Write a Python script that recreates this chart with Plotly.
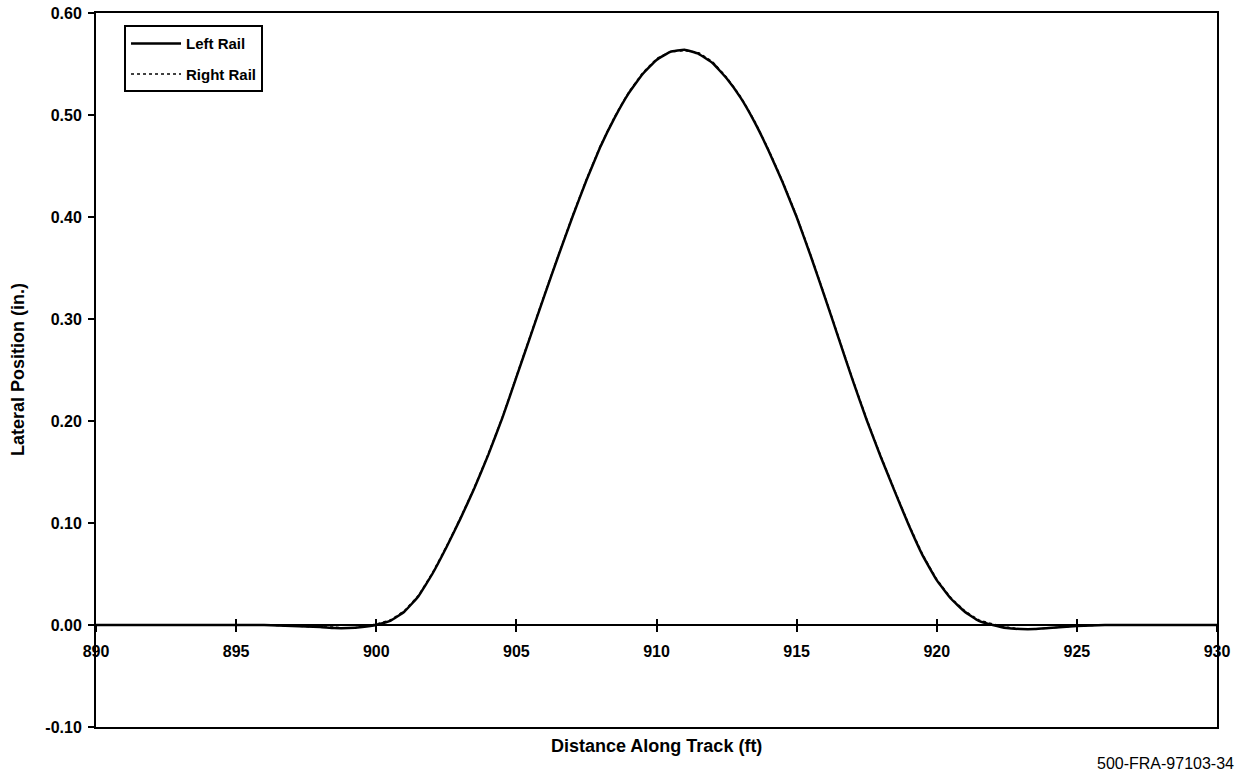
import plotly.graph_objects as go

# Distance along track (ft)
distance_ft = [890, 895, 896, 897, 898, 898.5, 899, 899.5, 900, 900.5, 901, 901.5, 902, 902.5,
               903, 903.5, 904, 904.5, 905, 905.5, 906, 906.5, 907, 907.5, 908, 908.5, 909,
               909.5, 910, 910.5, 911, 911.5, 912, 912.5, 913, 913.5, 914, 914.5, 915, 915.5,
               916, 916.5, 917, 917.5, 918, 918.5, 919, 919.5, 920, 920.5, 921, 921.5, 922,
               922.5, 923, 923.5, 924, 924.5, 925, 926, 930]

# Lateral position (in.)
left_rail = [0.0, 0.0, 0.0, -0.001, -0.002, -0.003, -0.003, -0.002, 0.0, 0.004, 0.013, 0.028,
             0.050, 0.076, 0.104, 0.134, 0.167, 0.203, 0.243, 0.283, 0.323, 0.362, 0.400,
             0.436, 0.469, 0.497, 0.521, 0.540, 0.554, 0.562, 0.564, 0.560, 0.551, 0.536,
             0.517, 0.493, 0.465, 0.434, 0.400, 0.362, 0.322, 0.281, 0.240, 0.201, 0.165,
             0.131, 0.098, 0.068, 0.044, 0.026, 0.013, 0.004, 0.0, -0.003, -0.004, -0.004,
             -0.003, -0.002, -0.001, 0.0, 0.0]

right_rail = [0.0, 0.0, 0.0, -0.001, -0.002, -0.002, -0.003, -0.002, 0.001, 0.005, 0.014, 0.029,
              0.051, 0.077, 0.105, 0.135, 0.168, 0.204, 0.244, 0.284, 0.324, 0.363, 0.401,
              0.437, 0.470, 0.498, 0.522, 0.541, 0.555, 0.562, 0.563, 0.561, 0.552, 0.537,
              0.518, 0.494, 0.466, 0.435, 0.401, 0.363, 0.323, 0.282, 0.241, 0.202, 0.166,
              0.132, 0.099, 0.069, 0.045, 0.027, 0.014, 0.005, 0.001, -0.002, -0.004, -0.004,
              -0.003, -0.002, -0.001, 0.0, 0.0]

x_ticks = [890, 895, 900, 905, 910, 915, 920, 925, 930]
y_ticks = [-0.10, 0.0, 0.10, 0.20, 0.30, 0.40, 0.50, 0.60]

FONT = "Arial, Liberation Sans, sans-serif"
tickfont = dict(family=FONT, size=16, color="black", weight="bold")
titlefont = dict(family=FONT, size=18, color="black", weight="bold")

fig = go.Figure()
fig.add_trace(go.Scatter(x=distance_ft, y=left_rail, mode="lines", name="Left Rail",
                         legendgroup="left",
                         line=dict(color="black", width=2.5, shape="spline", smoothing=0.3)))
fig.add_trace(go.Scatter(x=distance_ft, y=right_rail, mode="lines", name="Right Rail",
                         legendgroup="right",
                         line=dict(color="black", width=1.5, dash="dot", shape="spline", smoothing=0.3)))

# Helper traces binding the axes that float at y = 0
fig.add_trace(go.Scatter(x=[890, 930], y=[0, 0], xaxis="x2", mode="lines",
                         line=dict(color="black", width=2), showlegend=False, hoverinfo="skip"))
fig.add_trace(go.Scatter(x=[890, 930], y=[0, 0], xaxis="x3", mode="lines",
                         line=dict(color="black", width=2), showlegend=False, hoverinfo="skip"))

zero_pos = (0 - (-0.10)) / (0.60 - (-0.10))

fig.update_layout(
    width=1242, height=773,
    margin=dict(l=96, r=25, t=13, b=46, autoexpand=False),
    paper_bgcolor="white", plot_bgcolor="white",
    font=dict(family=FONT, color="black"),
    showlegend=True,
    legend=dict(x=0.025, y=0.983, xanchor="left", yanchor="top",
                bordercolor="black", borderwidth=2, bgcolor="white",
                font=dict(family=FONT, size=15, color="black", weight="bold"),
                tracegroupgap=8, itemwidth=50),
    xaxis=dict(range=[890, 930], showline=True, linecolor="black", linewidth=2, mirror=True,
               showgrid=False, zeroline=False, ticks="", showticklabels=False, automargin=False),
    xaxis2=dict(range=[890, 930], overlaying="x", anchor="free", position=zero_pos, side="bottom",
                showline=False, showgrid=False, zeroline=False, automargin=False,
                tickvals=x_ticks, ticktext=[str(v) for v in x_ticks],
                ticks="outside", ticklen=6, tickwidth=2, tickcolor="black",
                ticklabelstandoff=6, tickfont=tickfont),
    xaxis3=dict(range=[890, 930], overlaying="x", anchor="free", position=zero_pos, side="bottom",
                showline=False, showgrid=False, zeroline=False, automargin=False,
                tickvals=x_ticks, ticks="inside", ticklen=6, tickwidth=2, tickcolor="black",
                showticklabels=False),
    yaxis=dict(range=[-0.10, 0.60], showline=True, linecolor="black", linewidth=2, mirror=True,
               showgrid=False, zeroline=False, automargin=False,
               tickvals=y_ticks, ticktext=[f"{v:.2f}" for v in y_ticks],
               ticks="outside", ticklen=6, tickwidth=2, tickcolor="black",
               ticklabelstandoff=3, tickfont=tickfont),
    annotations=[
        dict(text="Distance Along Track (ft)", xref="paper", yref="paper",
             x=0.5, y=0, xanchor="center", yanchor="middle", yshift=-19,
             showarrow=False, font=titlefont),
        dict(text="Lateral Position (in.)", xref="paper", yref="paper",
             x=0, y=0.5, xanchor="center", yanchor="middle", xshift=-78, textangle=-90,
             showarrow=False, font=titlefont),
        dict(text="500-FRA-97103-34", xref="paper", yref="paper",
             x=1.0, y=0, xanchor="right", yanchor="middle", yshift=-36,
             xshift=19, showarrow=False, font=dict(family=FONT, size=16, color="black")),
    ],
)

fig.write_html("out.html", config={"displayModeBar": False},
               post_script="document.body.style.margin='0';")
